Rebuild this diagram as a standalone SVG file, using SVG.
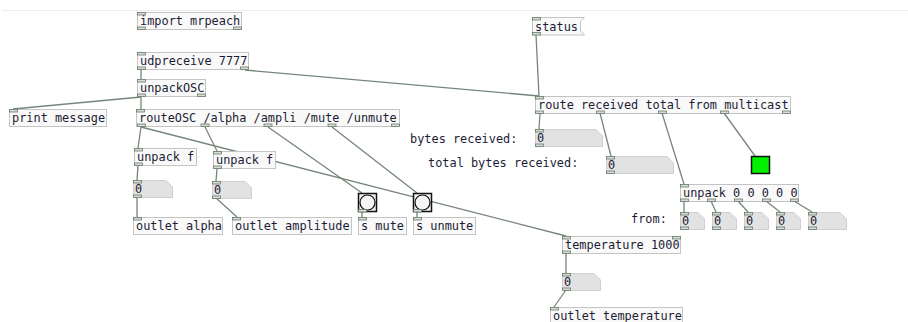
<svg xmlns="http://www.w3.org/2000/svg" width="908" height="322" viewBox="0 0 908 322">
<style>
.bg{fill:#ffffff}
.box{fill:#f9f9f9;stroke:#c4c4c4;stroke-width:1}
.num{fill:#e2e2e2;stroke:#cfcfcf;stroke-width:1}
.nub{fill:#d6ddd6;stroke:#6a7a6a;stroke-width:0.8}
.t{font-family:"DejaVu Sans Mono","Liberation Mono",monospace;font-size:11.9px;fill:#1c1c34}
.lbl{font-family:"DejaVu Sans Mono","Liberation Mono",monospace;font-size:11.9px;fill:#1c1c34}
.c line{stroke:#76867a;stroke-width:1.3}
.bng{fill:#f2f2f2;stroke:#111;stroke-width:1.5}
</style>
<rect class="bg" width="908" height="322"/>
<line x1="2" y1="10.5" x2="908" y2="10.5" stroke="#eeeeee" stroke-width="1"/>

<g class="c" id="connectors">
<line x1="141" y1="70" x2="141" y2="79"/>
<line x1="245" y1="70" x2="539" y2="96"/>
<line x1="141" y1="97" x2="13" y2="109"/>
<line x1="141" y1="97" x2="141" y2="109"/>
<line x1="536" y1="35" x2="539" y2="96"/>
<line x1="141" y1="127" x2="138" y2="148"/>
<line x1="141" y1="127" x2="566" y2="236"/>
<line x1="205" y1="127" x2="217" y2="151"/>
<line x1="268" y1="127" x2="362" y2="193"/>
<line x1="332" y1="127" x2="417" y2="193"/>
<line x1="138" y1="166" x2="137" y2="180"/>
<line x1="217" y1="169" x2="216" y2="181"/>
<line x1="137" y1="197" x2="137" y2="217"/>
<line x1="216" y1="198" x2="237" y2="217"/>
<line x1="362" y1="212" x2="362" y2="217"/>
<line x1="417" y1="212" x2="417" y2="217"/>
<line x1="540" y1="113" x2="539" y2="129"/>
<line x1="600" y1="113" x2="611" y2="156"/>
<line x1="662" y1="113" x2="684" y2="184"/>
<line x1="724" y1="113" x2="755" y2="156"/>
<line x1="684" y1="201" x2="684" y2="212"/>
<line x1="711" y1="201" x2="716" y2="212"/>
<line x1="738" y1="201" x2="748" y2="212"/>
<line x1="766" y1="201" x2="780" y2="212"/>
<line x1="794" y1="201" x2="812" y2="212"/>
<line x1="566" y1="254" x2="566" y2="273"/>
<line x1="566" y1="290" x2="554" y2="307"/>
</g>

<g id="import"><rect class="box" x="137.5" y="12.5" width="104" height="17"/><rect class="nub" x="137.5" y="12.5" width="8" height="2.5"/><rect class="nub" x="137.5" y="27" width="8" height="2.5"/><rect class="nub" x="233.5" y="27" width="8" height="2.5"/><text class="t" x="140" y="25">import mrpeach</text></g>

<g id="udpreceive"><rect class="box" x="137.5" y="52.5" width="111" height="17"/><rect class="nub" x="137.5" y="52.5" width="8" height="2.5"/><rect class="nub" x="137.5" y="67" width="8" height="2.5"/><rect class="nub" x="240.5" y="67" width="8" height="2.5"/><text class="t" x="140" y="65">udpreceive 7777</text></g>

<g id="unpackOSC"><rect class="box" x="137.5" y="79.5" width="68" height="17"/><rect class="nub" x="137.5" y="79.5" width="8" height="2.5"/><rect class="nub" x="137.5" y="94" width="8" height="2.5"/><rect class="nub" x="197.5" y="94" width="8" height="2.5"/><text class="t" x="140" y="92">unpackOSC</text></g>

<g id="print"><rect class="box" x="9.5" y="109.5" width="97" height="17"/><rect class="nub" x="9.5" y="109.5" width="8" height="2.5"/><text class="t" x="12" y="122">print message</text></g>

<g id="routeOSC"><rect class="box" x="136.5" y="109.5" width="263" height="17"/><rect class="nub" x="136.5" y="109.5" width="8" height="2.5"/><rect class="nub" x="137.5" y="124" width="8" height="2.5"/><rect class="nub" x="201" y="124" width="8" height="2.5"/><rect class="nub" x="264" y="124" width="8" height="2.5"/><rect class="nub" x="328" y="124" width="8" height="2.5"/><rect class="nub" x="391.5" y="124" width="8" height="2.5"/><text class="t" x="139" y="122">routeOSC /alpha /ampli /mute /unmute</text></g>

<g id="unpackf1"><rect class="box" x="134.5" y="148.5" width="62" height="17"/><rect class="nub" x="134.5" y="148.5" width="8" height="2.5"/><rect class="nub" x="134.5" y="163" width="8" height="2.5"/><text class="t" x="137" y="161">unpack f</text></g>

<g id="unpackf2"><rect class="box" x="213.5" y="151.5" width="62" height="17"/><rect class="nub" x="213.5" y="151.5" width="8" height="2.5"/><rect class="nub" x="213.5" y="166" width="8" height="2.5"/><text class="t" x="216" y="164">unpack f</text></g>

<g id="num1"><path class="num" d="M133.5,180.5 H166 L172.5,187 V197.5 H133.5 Z"/><rect class="nub" x="133.5" y="180.5" width="8" height="2.5"/><rect class="nub" x="133.5" y="195" width="8" height="2.5"/><text class="t" x="135" y="193">0</text></g>

<g id="num2"><path class="num" d="M212.5,181.5 H245 L251.5,188 V198.5 H212.5 Z"/><rect class="nub" x="212.5" y="181.5" width="8" height="2.5"/><rect class="nub" x="212.5" y="196" width="8" height="2.5"/><text class="t" x="214" y="194">0</text></g>

<g id="outletalpha"><rect class="box" x="133.5" y="217.5" width="89" height="17"/><rect class="nub" x="133.5" y="217.5" width="8" height="2.5"/><text class="t" x="136" y="230">outlet alpha</text></g>

<g id="outletamp"><rect class="box" x="232.5" y="217.5" width="119" height="17"/><rect class="nub" x="232.5" y="217.5" width="8" height="2.5"/><text class="t" x="235" y="230">outlet amplitude</text></g>

<g id="bngmute"><rect class="bng" x="358.5" y="193.5" width="18" height="18"/><circle cx="367.5" cy="202.5" r="7.5" fill="#f6f6f6" stroke="#111" stroke-width="1.2"/><rect class="nub" x="358.5" y="209.5" width="8" height="2.5"/></g>

<g id="bngunmute"><rect class="bng" x="413.5" y="193.5" width="18" height="18"/><circle cx="422.5" cy="202.5" r="7.5" fill="#f6f6f6" stroke="#111" stroke-width="1.2"/><rect class="nub" x="413.5" y="209.5" width="8" height="2.5"/></g>

<g id="smute"><rect class="box" x="358.5" y="217.5" width="48" height="17"/><rect class="nub" x="358.5" y="217.5" width="8" height="2.5"/><text class="t" x="361" y="230">s mute</text></g>

<g id="sunmute"><rect class="box" x="413.5" y="217.5" width="62" height="17"/><rect class="nub" x="413.5" y="217.5" width="8" height="2.5"/><text class="t" x="416" y="230">s unmute</text></g>

<g id="status"><path class="box" d="M532.5,17.5 H584.5 L580.5,21.5 V31 L584.5,35 H532.5 Z"/><rect class="nub" x="532.5" y="17.5" width="8" height="2.5"/><rect class="nub" x="532.5" y="32.5" width="8" height="2.5"/><text class="t" x="535" y="31">status</text></g>

<g id="route"><rect class="box" x="535.5" y="96.5" width="255" height="17"/><rect class="nub" x="535.5" y="96.5" width="8" height="2.5"/><rect class="nub" x="535.5" y="111" width="8" height="2.5"/><rect class="nub" x="596.5" y="111" width="8" height="2.5"/><rect class="nub" x="658.5" y="111" width="8" height="2.5"/><rect class="nub" x="720.5" y="111" width="8" height="2.5"/><rect class="nub" x="782.5" y="111" width="8" height="2.5"/><text class="t" x="538" y="109">route received total from multicast</text></g>

<g id="lblbytes"><text class="lbl" x="410" y="143">bytes received:</text></g>
<g id="lbltotal"><text class="lbl" x="428" y="167">total bytes received:</text></g>
<g id="lblfrom"><text class="lbl" x="631" y="223">from:</text></g>

<g id="numbytes"><path class="num" d="M535.5,129.5 H596 L602.5,136 V146.5 H535.5 Z"/><rect class="nub" x="535.5" y="129.5" width="8" height="2.5"/><rect class="nub" x="535.5" y="144" width="8" height="2.5"/><text class="t" x="537" y="142">0</text></g>

<g id="numtotal"><path class="num" d="M606.5,156.5 H667 L673.5,163 V173.5 H606.5 Z"/><rect class="nub" x="606.5" y="156.5" width="8" height="2.5"/><rect class="nub" x="606.5" y="171" width="8" height="2.5"/><text class="t" x="608" y="169">0</text></g>

<g id="greenbng"><rect x="751.5" y="156.5" width="18" height="17" fill="#00f000" stroke="#111" stroke-width="1.5"/></g>

<g id="unpack5"><rect class="box" x="680.5" y="184.5" width="118" height="17"/><rect class="nub" x="680.5" y="184.5" width="8" height="2.5"/><rect class="nub" x="680.5" y="199" width="8" height="2.5"/><rect class="nub" x="707.5" y="199" width="8" height="2.5"/><rect class="nub" x="734.5" y="199" width="8" height="2.5"/><rect class="nub" x="762.5" y="199" width="8" height="2.5"/><rect class="nub" x="790.5" y="199" width="8" height="2.5"/><text class="t" x="683" y="197">unpack 0 0 0 0 0</text></g>

<g id="nf1"><path class="num" d="M680.5,212.5 H698 L704.5,219 V229.5 H680.5 Z"/><rect class="nub" x="680.5" y="212.5" width="8" height="2.5"/><rect class="nub" x="680.5" y="227" width="8" height="2.5"/><text class="t" x="682" y="225">0</text></g>
<g id="nf2"><path class="num" d="M712.5,212.5 H730 L736.5,219 V229.5 H712.5 Z"/><rect class="nub" x="712.5" y="212.5" width="8" height="2.5"/><rect class="nub" x="712.5" y="227" width="8" height="2.5"/><text class="t" x="714" y="225">0</text></g>
<g id="nf3"><path class="num" d="M744.5,212.5 H762 L768.5,219 V229.5 H744.5 Z"/><rect class="nub" x="744.5" y="212.5" width="8" height="2.5"/><rect class="nub" x="744.5" y="227" width="8" height="2.5"/><text class="t" x="746" y="225">0</text></g>
<g id="nf4"><path class="num" d="M776.5,212.5 H794 L800.5,219 V229.5 H776.5 Z"/><rect class="nub" x="776.5" y="212.5" width="8" height="2.5"/><rect class="nub" x="776.5" y="227" width="8" height="2.5"/><text class="t" x="778" y="225">0</text></g>
<g id="nf5"><path class="num" d="M808.5,212.5 H840 L846.5,219 V229.5 H808.5 Z"/><rect class="nub" x="808.5" y="212.5" width="8" height="2.5"/><rect class="nub" x="808.5" y="227" width="8" height="2.5"/><text class="t" x="810" y="225">0</text></g>

<g id="temperature"><rect class="box" x="562.5" y="236.5" width="118" height="17"/><rect class="nub" x="562.5" y="236.5" width="8" height="2.5"/><rect class="nub" x="672.5" y="236.5" width="8" height="2.5"/><rect class="nub" x="562.5" y="251" width="8" height="2.5"/><text class="t" x="565" y="249">temperature 1000</text></g>

<g id="numtemp"><path class="num" d="M562.5,273.5 H594 L600.5,280 V290.5 H562.5 Z"/><rect class="nub" x="562.5" y="273.5" width="8" height="2.5"/><rect class="nub" x="562.5" y="288" width="8" height="2.5"/><text class="t" x="564" y="286">0</text></g>

<g id="outlettemp"><rect class="box" x="550.5" y="307.5" width="132" height="17"/><rect class="nub" x="550.5" y="307.5" width="8" height="2.5"/><text class="t" x="553" y="320">outlet temperature</text></g>
</svg>
